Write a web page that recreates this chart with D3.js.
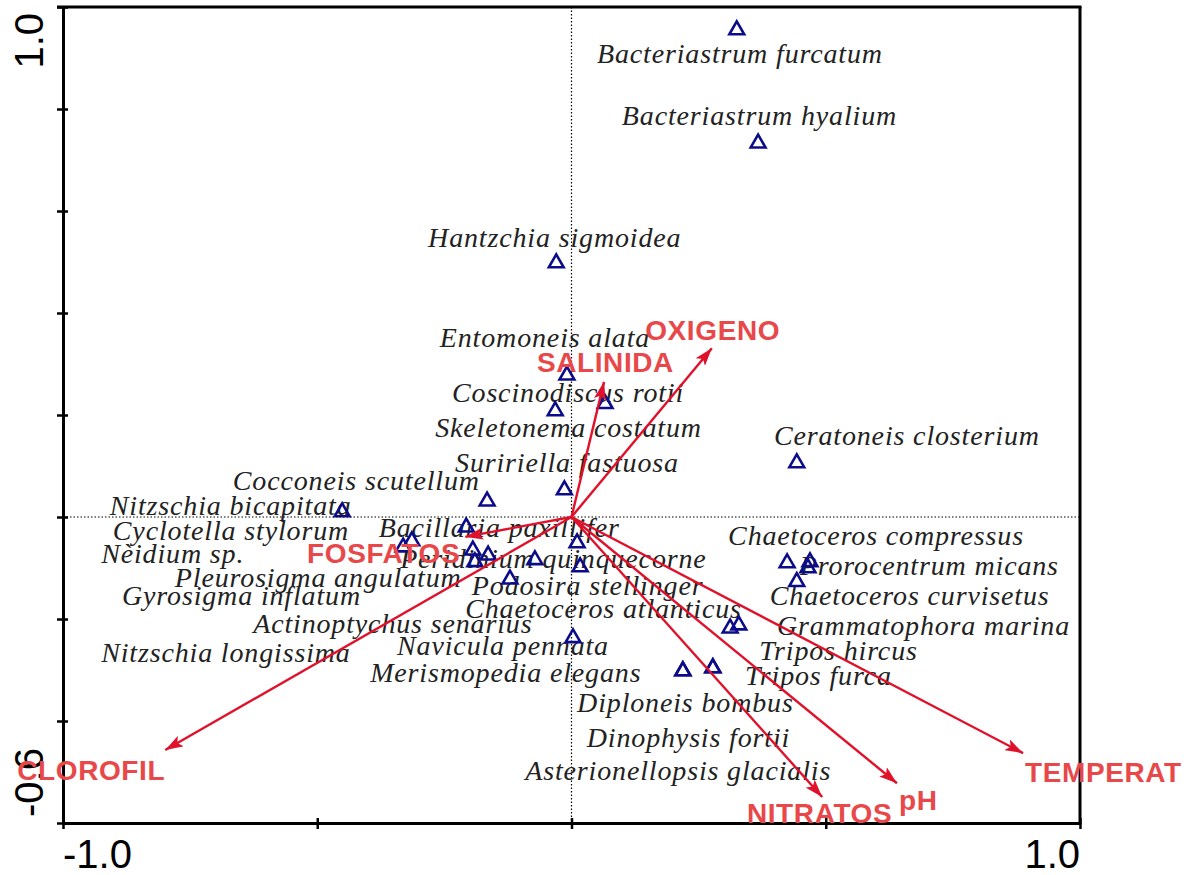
<!DOCTYPE html>
<html>
<head>
<meta charset="utf-8">
<script src="https://cdn.jsdelivr.net/npm/d3@7"></script>
<style>
  html, body { margin: 0; padding: 0; background: #fff; }
  svg { display: block; }
</style>
</head>
<body>
<svg id="chart" width="1195" height="875"></svg>
<script>
// CCA biplot: species scores (triangles) and environmental variables (arrows)

const species = [
  "Bacteriastrum furcatum", "Bacteriastrum hyalium", "Hantzchia sigmoidea",
  "Entomoneis alata", "Coscinodiscus rotii", "Skeletonema costatum",
  "Suririella fastuosa", "Cocconeis scutellum", "Nitzschia bicapitata",
  "Cyclotella stylorum", "Nèidium sp.", "Pleurosigma angulatum",
  "Gyrosigma inflatum", "Actinoptychus senarius", "Nitzschia longissima",
  "Bacillaria paxillifer", "Peridinium quinquecorne", "Podosira stellinger",
  "Chaetoceros atlanticus", "Navicula pennata", "Merismopedia elegans",
  "Diploneis bombus", "Dinophysis fortii", "Asterionellopsis glacialis",
  "Ceratoneis closterium", "Chaetoceros compressus", "Prorocentrum micans",
  "Chaetoceros curvisetus", "Grammatophora marina", "Tripos hircus", "Tripos furca"
];
const speciesAxis1 = [
  0.325, 0.367, -0.030, -0.009, 0.066, -0.032, -0.014, -0.166, -0.451,
  -0.314, -0.331, -0.194, -0.190, -0.121, -0.164, -0.207, -0.072, 0.017,
  0.011, 0.003, 0.219, 0.219, 0.278, 0.278, 0.443, 0.424, 0.469,
  0.443, 0.465, 0.312, 0.329
];
const speciesAxis2 = [
  0.955, 0.733, 0.498, 0.278, 0.222, 0.208, 0.053, 0.031, 0.010,
  -0.047, -0.059, -0.065, -0.088, -0.122, -0.075, -0.020, -0.084, -0.098,
  -0.051, -0.237, -0.302, -0.302, -0.296, -0.296, 0.106, -0.090, -0.088,
  -0.127, -0.100, -0.218, -0.212
];

const envVars = ["OXIGENO", "SALINIDA", "FOSFATOS", "CLOROFIL", "NITRATOS", "pH", "TEMPERAT"];
const envAxis1 = [0.276, 0.064, -0.209, -0.799, 0.493, 0.640, 0.888];
const envAxis2 = [0.331, 0.265, -0.039, -0.457, -0.549, -0.522, -0.463];

const xTicks = [-1.0, -0.5, 0, 0.5, 1.0];
const yTicks = [-0.6, -0.4, -0.2, 0, 0.2, 0.4, 0.6, 0.8, 1.0];
const xTickLabels = ["-1.0", "1.0"];
const yTickLabels = ["-0.6", "1.0"];

// label anchor points (axis units), left edge / baseline of each name
const speciesLabelAt = [
  [0.050, 0.890], [0.099, 0.769], [-0.282, 0.529], [-0.259, 0.333], [-0.235, 0.225],
  [-0.268, 0.157], [-0.229, 0.088], [-0.666, 0.053], [-0.908, 0.004], [-0.902, -0.045],
  [-0.925, -0.090], [-0.780, -0.137], [-0.884, -0.173], [-0.626, -0.227], [-0.925, -0.284],
  [-0.379, -0.039], [-0.337, -0.100], [-0.196, -0.153], [-0.209, -0.198], [-0.343, -0.271],
  [-0.396, -0.324], [0.011, -0.382], [0.030, -0.451], [-0.091, -0.516], [0.398, 0.141],
  [0.308, -0.055], [0.449, -0.114], [0.390, -0.173], [0.404, -0.231], [0.369, -0.280],
  [0.341, -0.329]
];
const envLabelAt = [
  [0.145, 0.347], [-0.068, 0.284], [-0.520, -0.090], [-1.090, -0.516],
  [0.345, -0.600], [0.644, -0.575], [0.892, -0.520]
];

const svg = d3.select("#chart");
const x = d3.scaleLinear().domain([-1, 1]).range([63, 1080]);
const y = d3.scaleLinear().domain([-0.6, 1.0]).range([823, 7]);

const arrowColor = "#e0112b";
const envTextColor = "#e8484a";
const markColor = "#0c0c8a";

// dotted zero lines
svg.append("line")
  .attr("x1", x(0)).attr("x2", x(0)).attr("y1", y(1.0)).attr("y2", y(-0.6))
  .attr("stroke", "#000").attr("stroke-width", 1.2).attr("stroke-dasharray", "1.5,2");
svg.append("line")
  .attr("x1", x(-1)).attr("x2", x(1)).attr("y1", y(0)).attr("y2", y(0))
  .attr("stroke", "#000").attr("stroke-width", 1.2).attr("stroke-dasharray", "1.5,2");

// axes with ticks crossing the frame
const xAxis = svg.append("g").attr("transform", `translate(0,${y(-0.6)})`)
  .call(d3.axisBottom(x).tickValues(xTicks).tickFormat("").tickSizeOuter(0).tickSizeInner(6));
const yAxis = svg.append("g").attr("transform", `translate(${x(-1)},0)`)
  .call(d3.axisLeft(y).tickValues(yTicks).tickFormat("").tickSizeOuter(0).tickSizeInner(6));
[xAxis, yAxis].forEach(g => {
  g.select(".domain").attr("stroke", "#000").attr("stroke-width", 3);
  g.selectAll(".tick line").attr("stroke", "#000").attr("stroke-width", 2.5);
});
xAxis.selectAll(".tick line").attr("y1", -5).attr("y2", 6);
yAxis.selectAll(".tick line").attr("x1", 5).attr("x2", -6);

// top and right frame
svg.append("line").attr("x1", x(-1) - 6).attr("x2", x(1) + 1.5).attr("y1", y(1.0)).attr("y2", y(1.0))
  .attr("stroke", "#000").attr("stroke-width", 3);
svg.append("line").attr("x1", x(1)).attr("x2", x(1)).attr("y1", y(1.0)).attr("y2", y(-0.6) + 1.5)
  .attr("stroke", "#000").attr("stroke-width", 3);

// axis end labels
const axisFont = "'Liberation Sans', Arial, sans-serif";
svg.append("text").attr("x", x(-1)).attr("y", y(-0.6) + 45)
  .attr("font-family", axisFont).attr("font-size", 40).attr("fill", "#000")
  .attr("text-anchor", "start").text(xTickLabels[0]);
svg.append("text").attr("x", x(1)).attr("y", y(-0.6) + 45)
  .attr("font-family", axisFont).attr("font-size", 40).attr("fill", "#000")
  .attr("text-anchor", "end").text(xTickLabels[1]);
svg.append("text")
  .attr("transform", `translate(${x(-1) - 20},${y(-0.6) - 6}) rotate(-90)`)
  .attr("font-family", axisFont).attr("font-size", 40).attr("fill", "#000")
  .attr("text-anchor", "start").text(yTickLabels[0]);
svg.append("text")
  .attr("transform", `translate(${x(-1) - 20},${y(1.0) + 6}) rotate(-90)`)
  .attr("font-family", axisFont).attr("font-size", 40).attr("fill", "#000")
  .attr("text-anchor", "end").text(yTickLabels[1]);

// species names
const labels = svg.append("g")
  .attr("font-family", "'Liberation Serif', 'Times New Roman', serif")
  .attr("font-style", "italic").attr("font-size", 28).attr("fill", "#222");
labels.selectAll("text").data(species).join("text")
  .attr("x", (d, i) => x(speciesLabelAt[i][0]))
  .attr("y", (d, i) => y(speciesLabelAt[i][1]))
  .attr("letter-spacing", 0.85)
  .text(d => d);

// species triangles
const tri = d3.symbol().type(d3.symbolTriangle).size(95);
svg.append("g").selectAll("path").data(species).join("path")
  .attr("d", tri)
  .attr("transform", (d, i) => `translate(${x(speciesAxis1[i])},${y(speciesAxis2[i])})`)
  .attr("fill", "none").attr("stroke", markColor).attr("stroke-width", 2.6);

// arrowhead
svg.append("defs").append("marker")
  .attr("id", "head").attr("viewBox", "0 0 18 12")
  .attr("refX", 18).attr("refY", 6)
  .attr("markerWidth", 18).attr("markerHeight", 12)
  .attr("markerUnits", "userSpaceOnUse").attr("orient", "auto")
  .append("path").attr("d", "M0,0 L18,6 L0,12 L4,6 Z").attr("fill", arrowColor);

// environmental arrows
svg.append("g").selectAll("line").data(envVars).join("line")
  .attr("x1", x(0)).attr("y1", y(0))
  .attr("x2", (d, i) => x(envAxis1[i])).attr("y2", (d, i) => y(envAxis2[i]))
  .attr("stroke", arrowColor).attr("stroke-width", 2.4)
  .attr("marker-end", "url(#head)");

// environmental variable names
svg.append("g")
  .attr("font-family", axisFont).attr("font-weight", "bold")
  .attr("font-size", 28).attr("fill", envTextColor)
  .selectAll("text").data(envVars).join("text")
  .attr("x", (d, i) => x(envLabelAt[i][0]))
  .attr("y", (d, i) => y(envLabelAt[i][1]))
  .attr("letter-spacing", 0.6)
  .text(d => d);
</script>
</body>
</html>
